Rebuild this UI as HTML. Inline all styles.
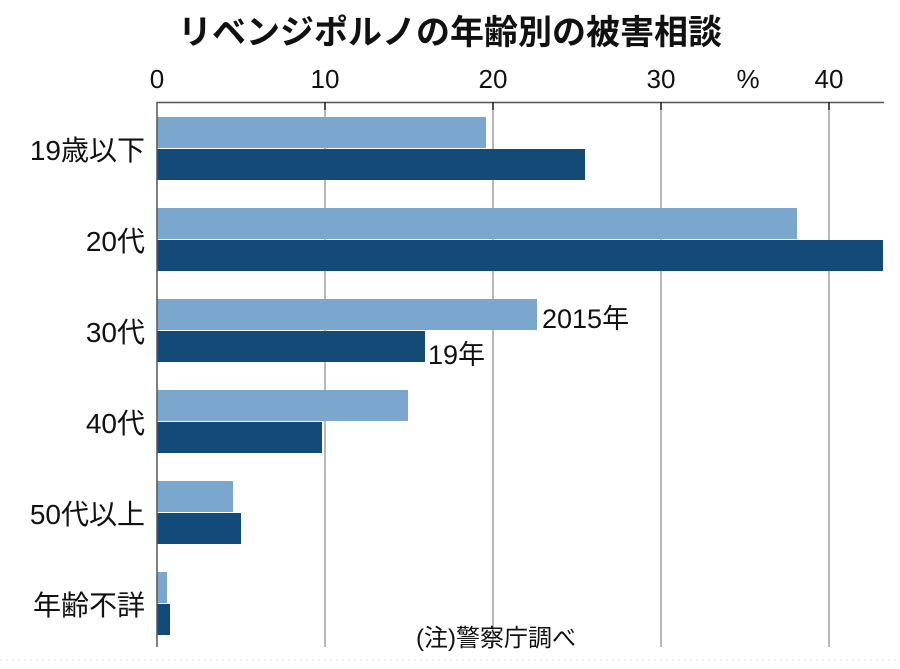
<!DOCTYPE html>
<html><head><meta charset="utf-8"><style>
body{margin:0;background:#fff;}
svg text{font-family:"Liberation Sans","Noto Sans CJK JP",sans-serif;fill:#111;}
</style></head><body>
<svg width="900" height="664" viewBox="0 0 900 664" xmlns="http://www.w3.org/2000/svg">
<rect width="900" height="664" fill="#fff"/>
<text x="450" y="44" text-anchor="middle" font-size="34" font-weight="bold">リベンジポルノの年齢別の被害相談</text>
<g font-size="26" text-anchor="middle">
<text x="157" y="88">0</text><text x="325" y="88">10</text><text x="493" y="88">20</text><text x="661" y="88">30</text><text x="829" y="88">40</text><text x="748" y="88">%</text>
</g>
<g stroke="#888" stroke-width="1.2">
<line x1="325" y1="102" x2="325" y2="647"/><line x1="493" y1="102" x2="493" y2="647"/><line x1="661" y1="102" x2="661" y2="647"/><line x1="829" y1="102" x2="829" y2="647"/>
</g>
<line x1="157" y1="102.5" x2="884" y2="102.5" stroke="#555" stroke-width="1.5"/>
<g stroke="#222" stroke-width="1.5"><line x1="325" y1="102" x2="325" y2="110"/><line x1="493" y1="102" x2="493" y2="110"/><line x1="661" y1="102" x2="661" y2="110"/><line x1="829" y1="102" x2="829" y2="110"/></g>
<g fill="#7ba7cf">
<rect x="157" y="117" width="329" height="31"/>
<rect x="157" y="208" width="640" height="31"/>
<rect x="157" y="299" width="380" height="31"/>
<rect x="157" y="390" width="251" height="31"/>
<rect x="157" y="481" width="76" height="31"/>
<rect x="157" y="572" width="10" height="31"/>
</g>
<g fill="#134a78">
<rect x="157" y="149" width="428" height="31"/>
<rect x="157" y="240" width="726" height="31"/>
<rect x="157" y="331" width="268" height="31"/>
<rect x="157" y="422" width="165" height="31"/>
<rect x="157" y="513" width="84" height="31"/>
<rect x="157" y="604" width="13" height="31"/>
</g>
<line x1="157" y1="102" x2="157" y2="647" stroke="#555" stroke-width="1.5"/>
<g font-size="28" text-anchor="end">
<text x="145" y="160">19歳以下</text>
<text x="145" y="251">20代</text>
<text x="145" y="342">30代</text>
<text x="145" y="433">40代</text>
<text x="145" y="524">50代以上</text>
<text x="145" y="615">年齢不詳</text>
</g>
<text x="542" y="328" font-size="27">2015年</text>
<text x="428" y="364" font-size="27">19年</text>
<text x="496" y="646" font-size="24" text-anchor="middle">(注)警察庁調べ</text>
<line x1="0" y1="660" x2="900" y2="660" stroke="#ddd" stroke-width="1" stroke-dasharray="2,4"/>
</svg>
</body></html>
